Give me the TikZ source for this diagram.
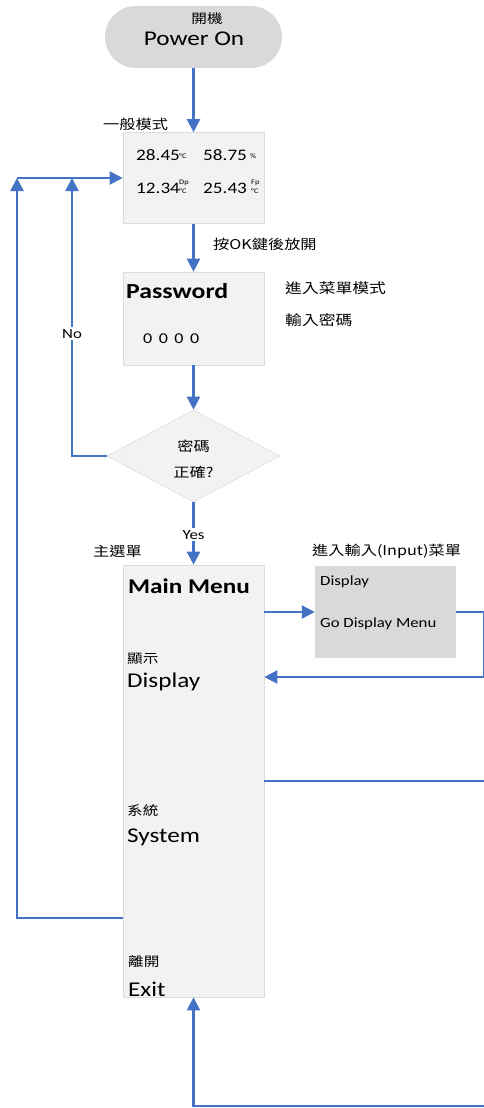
\documentclass[tikz,border=0pt]{standalone}
\usepackage{fontspec}
\setmainfont{Carlito}[FakeStretch=1.2]
\newfontfamily\cjk{Noto Sans CJK TC}[FakeStretch=1.2]
\usetikzlibrary{shapes.geometric,shapes.misc,arrows.meta,calc}
\definecolor{lineblue}{HTML}{4472C4}
\definecolor{boxfill}{HTML}{F2F2F2}
\definecolor{boxedge}{HTML}{DCDCDC}
\definecolor{darkfill}{HTML}{D9D9D9}
\newcommand{\fs}[1]{\fontsize{#1}{#1}\selectfont}
\begin{document}
\begin{tikzpicture}[x=1pt,y=-1pt,
  conn/.style={draw=lineblue, line width=2.2pt},
  arr/.style={conn, -{Triangle[width=13pt,length=13pt]}},
  lbox/.style={draw=boxedge, line width=0.6pt, fill=boxfill, inner sep=0pt},
  dbox/.style={fill=darkfill, inner sep=0pt},
  term/.style={rounded rectangle, fill=darkfill, inner sep=0pt},
  tw/.style={inner sep=0pt, anchor=base west},
  tc/.style={inner sep=0pt, anchor=center},
  cj/.style={font=\cjk\fs{13.5}},
  big/.style={font=\fs{21}},
  bigb/.style={font=\bfseries\fs{21.5}},
  num/.style={font=\fs{16}},
  sm/.style={font=\fs{7}},
  mid/.style={font=\fs{15}},
  onl/.style={fill=white, inner sep=2pt, font=\fs{14}}
]
\useasboundingbox (0,0) rectangle (484,1108);

% shapes
\node[term, minimum width=177pt, minimum height=62pt] (pwr) at (193.5,37) {};
\node[lbox, minimum width=141pt, minimum height=91pt] (norm) at (193.5,178) {};
\node[lbox, minimum width=141pt, minimum height=93pt] (pw) at (193.5,318.5) {};
\node[lbox, diamond, minimum width=173pt, minimum height=92pt] (dec) at (193.5,456) {};
\node[lbox, minimum width=141pt, minimum height=432pt] (mm) at (193.5,781) {};
\node[dbox, minimum width=141pt, minimum height=92pt] (sub) at (385.5,612) {};

% texts
\node[tc, cj, font=\cjk\fs{13}] (tpk) at (207,19) {開機};
\node[inner sep=0pt, anchor=base, big] (tpo) at (194,46) {Power On};
\node[inner sep=0pt, anchor=west, cj] (tnm) at (103,124) {一般模式};
\node[tw, num] (n1) at (136,160) {28.45};
\node[tw, sm] (n1u) at (179,158) {°C};
\node[tw, num] (n2) at (203,160) {58.75};
\node[tw, sm] (n2u) at (250,158) {\%};
\node[tw, num] (n3) at (136,193) {12.34};
\node[tw, sm] (n3a) at (179,184) {Dp};
\node[tw, sm] (n3u) at (179,193) {°C};
\node[tw, num] (n4) at (203,193) {25.43};
\node[tw, sm] (n4a) at (251,184) {Fp};
\node[tw, sm] (n4u) at (251,193) {°C};
\node[inner sep=0pt, anchor=west, cj] (tok) at (213,244) {按OK鍵後放開};
\node[tw, bigb] (tpw) at (126,298) {Password};
\node[inner sep=0pt, anchor=west, mid] (tzz) at (143,339) {0\hspace{6.5pt}0\hspace{6.5pt}0\hspace{6.5pt}0};
\node[inner sep=0pt, anchor=west, font=\cjk\fs{14}] (tmenu) at (285,288) {進入菜單模式};
\node[inner sep=0pt, anchor=west, font=\cjk\fs{14}] (tinp) at (285,320) {輸入密碼};
\node[tc, cj] (tq1) at (193.5,446) {密碼};
\node[tc, cj] (tq2) at (193.5,472) {正確?};
\node[inner sep=0pt, anchor=west, cj] (tmain) at (93,551) {主選單};
\node[inner sep=0pt, anchor=west, cj] (tsubl) at (312,551) {進入輸入(Input)菜單};
\node[tw, font=\bfseries\fs{21}] (tmm) at (128,593) {Main Menu};
\node[inner sep=0pt, anchor=west, font=\cjk\fs{13}] (tds) at (127,659) {顯示};
\node[tw, big] (tdisp) at (127,687) {Display};
\node[inner sep=0pt, anchor=west, font=\cjk\fs{13}] (tsy) at (127,811) {系統};
\node[tw, big] (tsys) at (127,842) {System};
\node[inner sep=0pt, anchor=west, font=\cjk\fs{13}] (tlk) at (128,962) {離開};
\node[tw, big] (texit) at (128,996) {Exit};
\node[tw, font=\fs{14}] (tsd) at (320,585) {Display};
\node[tw, font=\fs{14}] (tgo) at (320,627) {Go Display Menu};

% coordinates
\coordinate (ntop) at (72,178);
\coordinate (otop) at (17,178);
\coordinate (mmout) at ($(mm.west)+(0,137)$);
\coordinate (dispin) at ($(mm.east)+(0,-104)$);
\coordinate (sysR) at (484,781);
\coordinate (botR) at (484,1106);

% connectors
\draw[arr] (pwr.south) -- (norm.north);
\draw[arr] (norm.south) -- (pw.north);
\draw[arr] (pw.south) -- (dec.north);
\draw[arr] (dec.south) -- node[onl, pos=0.52] {Yes} (mm.north);
\draw[arr] (dec.west) -| node[onl, pos=0.72] {No} (ntop);
\draw[arr] (mmout) -| (otop);
\draw[arr] (otop) -- (norm.west);
\draw[arr] (mm.east |- sub.west) -- (sub.west);
\draw[arr] (sub.east) -- ++(27.5,0) |- (dispin);
\draw[conn] (mm.east) -- (sysR);
\draw[arr] (botR) -| (mm.south);
\end{tikzpicture}
\end{document}
